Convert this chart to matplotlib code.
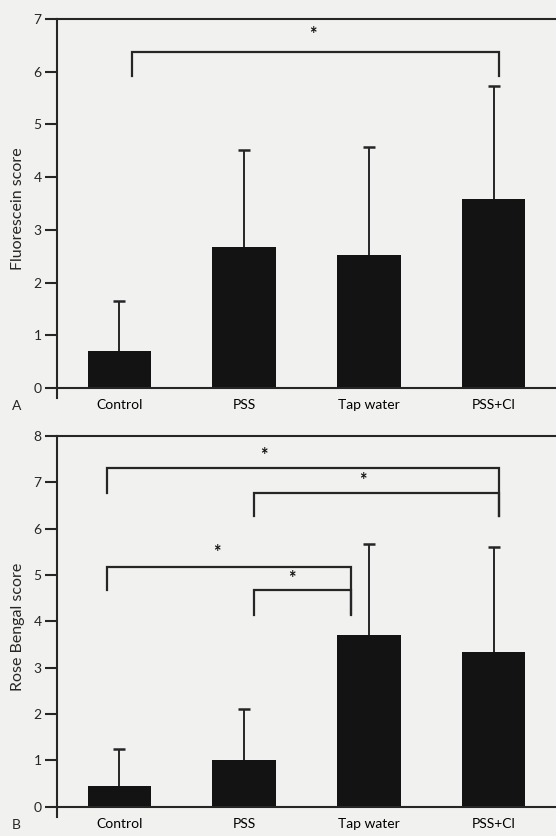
import matplotlib
matplotlib.use("Agg")
import matplotlib.pyplot as plt

plt.rcParams['font.family'] = ['Lato', 'DejaVu Sans']

groups = ['Control', 'PSS', 'Tap water', 'PSS+Cl']

fluor_mean = [0.70, 2.67, 2.52, 3.58]
fluor_sd = [0.95, 1.85, 2.05, 2.15]

rose_mean = [0.45, 1.02, 3.71, 3.33]
rose_sd = [0.79, 1.08, 1.96, 2.28]

# brackets: (x_left, x_right, y_bar, y_left_end, y_right_end, star_x, star_y)
fluor_brackets = [(0.10, 3.04, 6.38, 5.92, 5.92, 1.55, 6.70)]
rose_brackets = [
    (-0.10, 3.04, 7.30, 6.77, 6.28, 1.16, 7.58),
    (1.08, 3.04, 6.78, 6.28, 6.28, 1.95, 7.04),
    (-0.10, 1.86, 5.18, 4.68, 4.16, 0.78, 5.48),
    (1.08, 1.86, 4.68, 4.14, 4.14, 1.38, 4.92),
]

bg = '#f1f1ef'
ink = '#262626'

fig = plt.figure(figsize=(5.56, 8.36), dpi=100, facecolor=bg)
ax_a = fig.add_axes([0.1025, 0.5239, 0.8975, 0.4534])
ax_b = fig.add_axes([0.1025, 0.0227, 0.8975, 0.4558])


def draw_panel(ax, means, sds, ymax, ybottom, ylabel, brackets, letter):
    ax.set_facecolor(bg)
    x = range(len(groups))
    ax.bar(x, means, width=0.51, color='#131313', zorder=2)
    eb = ax.errorbar(x, means, yerr=[[0] * len(sds), sds], fmt='none',
                     ecolor=ink, elinewidth=1.4, capsize=4, capthick=1.8,
                     zorder=1)
    eb[1][0].set_visible(False)
    for xl, xr, yb, yl, yr, sx, sy in brackets:
        ax.plot([xl, xl, xr, xr], [yl, yb, yb, yr], color=ink, lw=1.6,
                solid_joinstyle='miter')
        ax.text(sx, sy, '*', ha='center', va='center', fontsize=13,
                color='#111', fontweight='bold')
    ax.set_xlim(-0.5, 3.5)
    ax.set_ylim(ybottom, ymax)
    ax.set_yticks(range(ymax + 1))
    ax.set_xticks(list(x))
    ax.set_xticklabels(groups, fontsize=10, color=ink)
    ax.spines['right'].set_visible(False)
    ax.spines['bottom'].set_position(('data', 0))
    for s in ['left', 'top', 'bottom']:
        ax.spines[s].set_linewidth(1.5)
        ax.spines[s].set_color(ink)
    ax.tick_params(axis='y', length=9, width=1.5, color=ink, labelsize=10,
                   labelcolor=ink, pad=2)
    ax.tick_params(axis='x', length=0, pad=8)
    ax.set_ylabel(ylabel, fontsize=11.5, color=ink, labelpad=6)
    ax.text(-0.09, -0.005, letter, transform=ax.transAxes,
            fontsize=10, color=ink, ha='left', va='top')


draw_panel(ax_a, fluor_mean, fluor_sd, 7, -0.19, 'Fluorescein score',
           fluor_brackets, 'A')
draw_panel(ax_b, rose_mean, rose_sd, 8, -0.22, 'Rose Bengal score',
           rose_brackets, 'B')

fig.savefig('out.png', dpi=100, facecolor=bg)
